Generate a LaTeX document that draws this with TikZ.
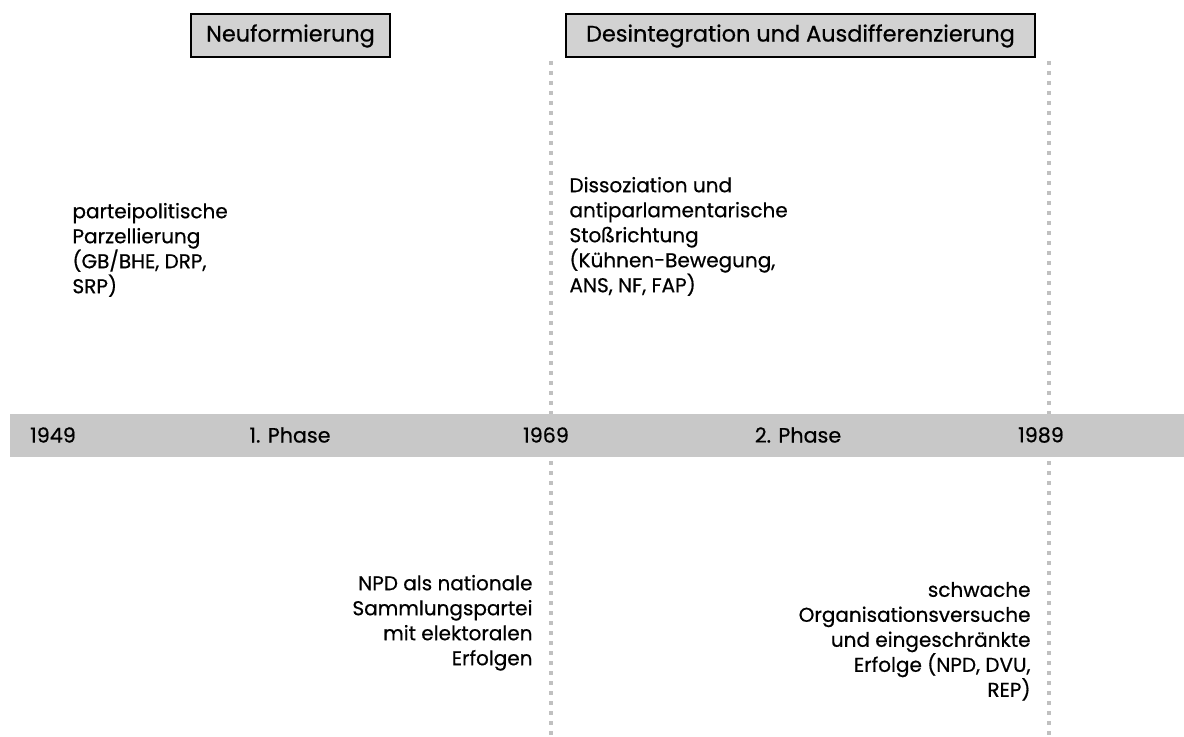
\documentclass[tikz,border=0pt]{standalone}
\usepackage{fontspec}
\setmainfont{Poppins}[UprightFeatures={FakeBold=0.6}]

\definecolor{bargrey}{RGB}{200,200,200}
\definecolor{boxgrey}{RGB}{210,210,210}
\definecolor{dotgrey}{RGB}{192,192,192}

\tikzset{every picture/.style={line width=0.75pt}}
\tikzset{
  txt/.style={inner sep=0pt, font=\fontsize{15}{18.75}\selectfont},
  yeartxt/.style={inner sep=0pt, font=\fontsize{15.5}{18.75}\selectfont},
  phasebox/.style={draw=black, fill=boxgrey, line width=1.5pt, inner sep=0pt, font=\fontsize{16.8}{20}\selectfont},
  cutline/.style={draw=dotgrey, line width=3pt, dash pattern={on 3pt off 4.5pt}}
}

\begin{document}
\begin{tikzpicture}[x=0.75pt,y=0.75pt,yscale=-1,xscale=1]
\useasboundingbox (0,0) rectangle (1184,737);

%Straight Lines: phase borders
\coordinate (cut1top) at (551,61);
\coordinate (cut1bot) at (551,737);
\coordinate (cut2top) at (1049,61);
\coordinate (cut2bot) at (1049,737);
\draw [cutline] (cut1top) -- (cut1bot);
\draw [cutline] (cut2top) -- (cut2bot);

%Shape: Rectangle (time axis)
\fill [bargrey] (10,414) rectangle (1184,457);

% Text Node
\draw (53,435) node [yeartxt] (y1949) {1949};
% Text Node
\draw (290,435) node [yeartxt] (phase1) {1. Phase};
% Text Node
\draw (546,435) node [yeartxt] (y1969) {1969};
% Text Node
\draw (798,435) node [yeartxt] (phase2) {2. Phase};
% Text Node
\draw (1041,435) node [yeartxt] (y1989) {1989};

% Text Node
\draw (290.5,36) node [phasebox, minimum width=149.25pt, minimum height=32.25pt] (neu) {Neuformierung};
% Text Node
\draw (800.5,36) node [phasebox, minimum width=351.75pt, minimum height=32.25pt] (desint) {Desintegration und Ausdifferenzierung};

% Text Node
\draw (72,202.5) node [txt, anchor=north west, align=left] (parz) {parteipolitische\\Parzellierung\\(GB/BHE, DRP,\\SRP)};
% Text Node
\draw (569,176.5) node [txt, anchor=north west, align=left] (diss) {Dissoziation und\\antiparlamentarische\\Stoßrichtung\\(Kühnen-Bewegung,\\ANS, NF, FAP)};
% Text Node
\draw (533,574.5) node [txt, anchor=north east, align=right] (npd) {NPD als nationale\\Sammlungspartei\\mit elektoralen\\Erfolgen};
% Text Node
\draw (1031,581.5) node [txt, anchor=north east, align=right] (schw) {schwache\\Organisationsversuche\\und eingeschränkte\\Erfolge (NPD, DVU,\\REP)};

\end{tikzpicture}
\end{document}
